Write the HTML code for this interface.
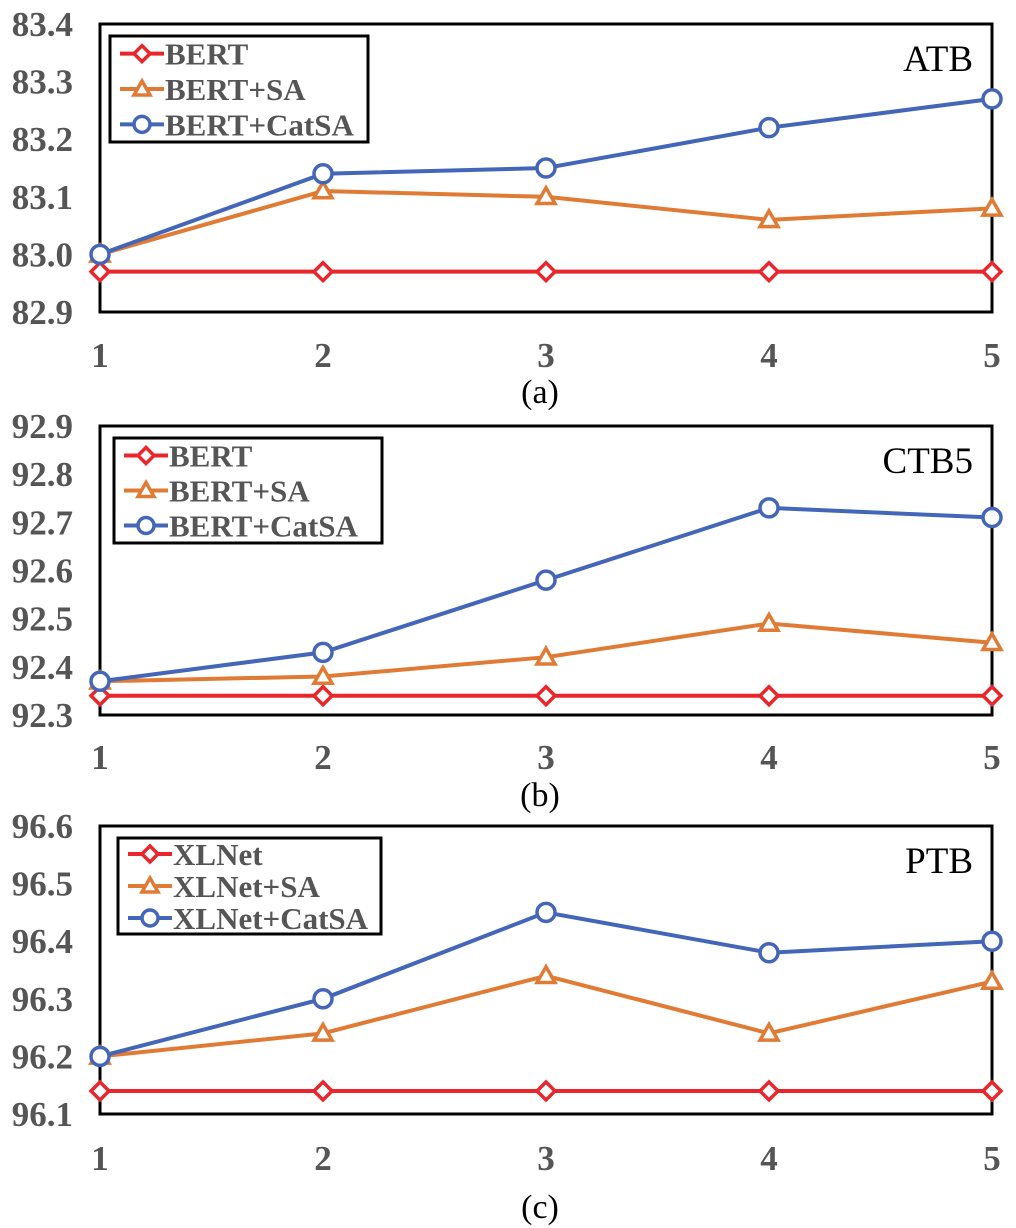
<!DOCTYPE html>
<html><head><meta charset="utf-8"><style>
body{margin:0;background:#fff;}
svg{display:block;font-family:"Liberation Serif",serif;}
.tk{font-weight:bold;fill:#555;font-size:35px;}
.lg{font-weight:bold;fill:#555;font-size:31px;}
.tt{fill:#000;font-size:37px;}
.cap{fill:#000;font-size:34px;}
</style></head><body>
<svg id="chart" width="1016" height="1228"></svg>
<script>
const xCats=[1,2,3,4,5];
const aBase=[82.97,82.97,82.97,82.97,82.97];
const aSA=[83.00,83.11,83.10,83.06,83.08];
const aCat=[83.00,83.14,83.15,83.22,83.27];
const aTicks=["82.9","83.0","83.1","83.2","83.3","83.4"];
const bBase=[92.34,92.34,92.34,92.34,92.34];
const bSA=[92.37,92.38,92.42,92.49,92.45];
const bCat=[92.37,92.43,92.58,92.73,92.71];
const bTicks=["92.3","92.4","92.5","92.6","92.7","92.8","92.9"];
const cBase=[96.14,96.14,96.14,96.14,96.14];
const cSA=[96.20,96.24,96.34,96.24,96.33];
const cCat=[96.20,96.30,96.45,96.38,96.40];
const cTicks=["96.1","96.2","96.3","96.4","96.5","96.6"];
const aNames=["BERT","BERT+SA","BERT+CatSA"];
const cNames=["XLNet","XLNet+SA","XLNet+CatSA"];

const NS="http://www.w3.org/2000/svg";
const svg=document.getElementById('chart');
function el(t,a,p){const e=document.createElementNS(NS,t);for(const k in a)e.setAttribute(k,a[k]);(p||svg).appendChild(e);return e;}
const colors=["#e8262b","#e07b35","#4466b8"];
function marker(g,k,x,y,s){
  if(k===0)return el('polygon',{points:`${x},${y-s} ${x+s},${y} ${x},${y+s} ${x-s},${y}`,fill:'#fff',stroke:colors[0],'stroke-width':3.5},g);
  if(k===1)return el('polygon',{points:`${x},${y-s} ${x+s},${y+s*0.75} ${x-s},${y+s*0.75}`,fill:'#fff',stroke:colors[1],'stroke-width':3.5},g);
  return el('circle',{cx:x,cy:y,r:s,fill:'#fff',stroke:colors[2],'stroke-width':3.5},g);
}
function panel(id,top,bot,ticks,series,names,title,cap,lg,capY,xlY){
  const L=100,R=992;
  const g=el('g',{});
  
  
  const t0=parseFloat(ticks[0]),t1=parseFloat(ticks[ticks.length-1]);
  const ys=v=>bot-(v-t0)/(t1-t0)*(bot-top);
  const xs=i=>L+(i-1)/(xCats.length-1)*(R-L);
  ticks.forEach(t=>{const e=el('text',{x:73,y:ys(parseFloat(t))+12,'text-anchor':'end',class:'tk'},g);e.textContent=t;
    });
  xCats.forEach(c=>{const e=el('text',{x:xs(c),y:xlY,'text-anchor':'middle',class:'tk'},g);e.textContent=c;
    });
  const fr=el('rect',{x:L,y:top,width:R-L,height:bot-top,fill:'none',stroke:'#000','stroke-width':3},g);
  
  series.forEach((s,k)=>{
    const pl=el('polyline',{points:s.map((v,i)=>xs(xCats[i])+','+ys(v)).join(' '),fill:'none',stroke:colors[k],'stroke-width':4},g);
    
    
  });
  series.forEach((s,k)=>s.forEach((v,i)=>{const m=marker(g,k,xs(xCats[i]),ys(v),9);
    }));
  const lb=el('rect',{x:lg[0],y:lg[1],width:lg[2],height:lg[3],fill:'#fff',stroke:'#000','stroke-width':3},g);
  
  const rh=lg[3]/3;
  names.forEach((n,k)=>{const cy=lg[1]+rh*(k+0.5);const x0=lg[0]+10;
    el('line',{x1:x0,y1:cy,x2:x0+44,y2:cy,stroke:colors[k],'stroke-width':4},g);
    marker(g,k,x0+22,cy,8);
    const e=el('text',{x:x0+45,y:cy+11,class:'lg'},g);e.textContent=n;
    });
  const tt=el('text',{x:973,y:top+47,'text-anchor':'end',class:'tt'},g);tt.textContent=title;
  
  const cp=el('text',{x:540,y:capY,'text-anchor':'middle',class:'cap'},g);cp.textContent=cap;
  
}
panel('a',24,312,aTicks,[aBase,aSA,aCat],aNames,"ATB","(a)",[110,36,258,106],403,367);
panel('b',426,715,bTicks,[bBase,bSA,bCat],aNames,"CTB5","(b)",[114,438,268,105],806,769);
panel('c',826,1114,cTicks,[cBase,cSA,cCat],cNames,"PTB","(c)",[118,838,263,96],1218,1170);
</script>
</body></html>
